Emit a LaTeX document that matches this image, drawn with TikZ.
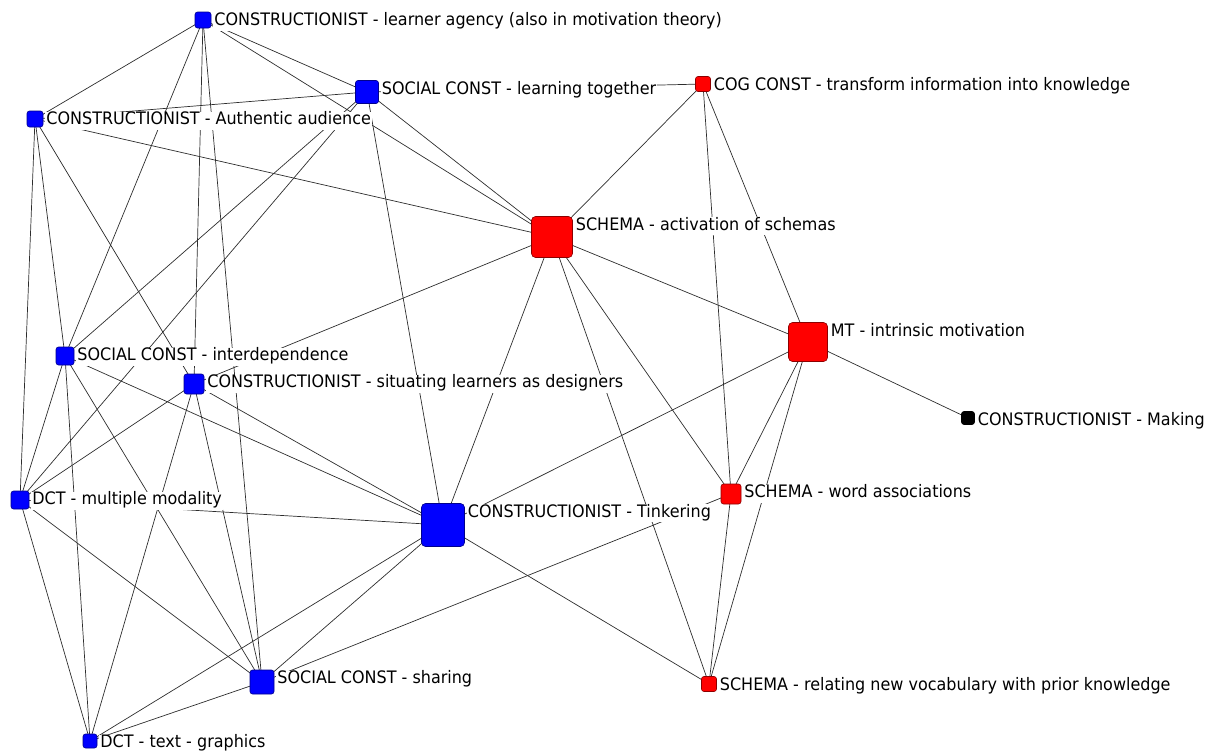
\documentclass[tikz,border=0pt]{standalone}
\usepackage{fontspec}
\setmainfont{DejaVu Sans}[FakeStretch=0.93]
\pgfdeclarelayer{edges}
\pgfsetlayers{edges,main}
\definecolor{nblue}{RGB}{0,0,255}
\definecolor{nred}{RGB}{255,0,0}
\definecolor{edgec}{RGB}{45,45,45}
\begin{document}
\begin{tikzpicture}[x=1pt,y=-1pt,
  nd/.style={draw=#1!55!black, fill=#1, line width=0.6pt, rounded corners=2.5pt, inner sep=0pt, outer sep=0pt},
  lbl/.style={anchor=base west, fill=white, inner sep=1.2pt, text height=12pt, text depth=3.5pt,
    font=\fontsize{17.2}{20}\selectfont},
  link/.style={draw=edgec, line width=0.7pt}]
\useasboundingbox (0,0) rectangle (1227,753);

% concept nodes
\node[nd=nblue, minimum size=16pt] (LA) at (203,20) {};
\node[nd=nblue, minimum size=23pt] (LT) at (367,92) {};
\node[nd=nblue, minimum size=16pt] (AA) at (35,119) {};
\node[nd=nred,  minimum size=15pt] (CC) at (703,84) {};
\node[nd=nred,  minimum size=41pt, rounded corners=4pt] (SA) at (552,237) {};
\node[nd=nred,  minimum size=39pt, rounded corners=4pt] (MT) at (808,342) {};
\node[nd=black, minimum size=13pt] (MK) at (968,418) {};
\node[nd=nblue, minimum size=18pt] (ID) at (65,356) {};
\node[nd=nblue, minimum size=20pt] (SD) at (194,384) {};
\node[nd=nblue, minimum size=18pt] (MM) at (20,500) {};
\node[nd=nblue, minimum size=43pt, rounded corners=4pt] (TK) at (443,525) {};
\node[nd=nred,  minimum size=20pt] (WA) at (731,494) {};
\node[nd=nblue, minimum size=24pt] (SH) at (262,682) {};
\node[nd=nred,  minimum size=15pt] (RN) at (709,684) {};
\node[nd=nblue, minimum size=14pt] (TG) at (90,741) {};

% labels
\node[lbl] (LAt) at ([xshift=2pt,yshift=-13.8pt]LA.north east) {CONSTRUCTIONIST - learner agency (also in motivation theory)};
\node[lbl] (LTt) at ([xshift=2pt,yshift=-13.8pt]LT.north east) {SOCIAL CONST - learning together};
\node[lbl] (AAt) at ([xshift=2pt,yshift=-13.8pt]AA.north east) {CONSTRUCTIONIST - Authentic audience};
\node[lbl] (CCt) at ([xshift=2pt,yshift=-13.8pt]CC.north east) {COG CONST - transform information into knowledge};
\node[lbl] (SAt) at ([xshift=2pt,yshift=-13.8pt]SA.north east) {SCHEMA - activation of schemas};
\node[lbl] (MTt) at ([xshift=2pt,yshift=-13.8pt]MT.north east) {MT - intrinsic motivation};
\node[lbl] (MKt) at ([xshift=2pt,yshift=-13.8pt]MK.north east) {CONSTRUCTIONIST - Making};
\node[lbl] (IDt) at ([xshift=2pt,yshift=-13.8pt]ID.north east) {SOCIAL CONST - interdependence};
\node[lbl] (SDt) at ([xshift=2pt,yshift=-13.8pt]SD.north east) {CONSTRUCTIONIST - situating learners as designers};
\node[lbl] (MMt) at ([xshift=2pt,yshift=-13.8pt]MM.north east) {DCT - multiple modality};
\node[lbl] (TKt) at ([xshift=2pt,yshift=-13.8pt]TK.north east) {CONSTRUCTIONIST - Tinkering};
\node[lbl] (WAt) at ([xshift=2pt,yshift=-13.8pt]WA.north east) {SCHEMA - word associations};
\node[lbl] (SHt) at ([xshift=2pt,yshift=-13.8pt]SH.north east) {SOCIAL CONST - sharing};
\node[lbl] (RNt) at ([xshift=2pt,yshift=-13.8pt]RN.north east) {SCHEMA - relating new vocabulary with prior knowledge};
\node[lbl] (TGt) at ([xshift=2pt,yshift=-13.8pt]TG.north east) {DCT - text - graphics};

% ties, kept underneath labels and nodes
\begin{pgfonlayer}{edges}
\foreach \a/\b in {LA/AA, LA/ID, LA/SD, LA/SH, LA/LT, LA/SA,
                   LT/AA, LT/CC, LT/SA, LT/TK, LT/ID, LT/MM,
                   AA/SA, AA/MM, AA/ID, AA/SD,
                   CC/SA, CC/WA, CC/MT,
                   SA/MT, SA/TK, SA/WA, SA/RN, SA/SD,
                   MT/MK, MT/TK, MT/WA, MT/RN,
                   WA/RN, WA/SH,
                   TK/RN, TK/ID, TK/SD, TK/MM, TK/TG, TK/SH,
                   SH/TG, SH/MM, SH/ID, SH/SD,
                   TG/MM, TG/ID, TG/SD,
                   MM/ID, MM/SD}
  \draw[link] (\a.center) -- (\b.center);
\end{pgfonlayer}
\end{tikzpicture}
\end{document}
